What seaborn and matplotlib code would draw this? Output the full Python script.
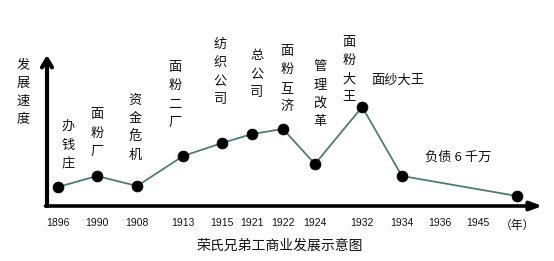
import matplotlib
matplotlib.use("Agg")
import matplotlib.pyplot as plt
import seaborn as sns
import pandas as pd

sns.set_theme(style="white")
plt.rcParams['font.family'] = ['Noto Sans CJK SC', 'DejaVu Sans']

# ---- data ----
tick_labels = ["1896", "1990", "1908", "1913", "1915", "1921", "1922",
               "1924", "1932", "1934", "1936", "1945"]
point_years = ["1896", "1990", "1908", "1913", "1915", "1921", "1922",
               "1924", "1932", "1934", "（年）"]
speed = [1.9, 3.0, 2.0, 5.0, 6.3, 7.2, 7.7, 4.2, 9.9, 3.0, 1.0]
events = ["办钱庄", "面粉厂", "资金危机", "面粉二厂", "纺织公司", "总公司",
          "面粉互济", "管理改革", "面粉大王"]
side_notes = ["面纱大王", "负债 6 千万"]
title = "荣氏兄弟工商业发展示意图"
ylabel = "发展速度"

# ---- layout (uneven spacing of the hand-drawn axis) ----
slot = {"1896": 0.28, "1990": 1.28, "1908": 2.31, "1913": 3.49, "1915": 4.49,
        "1921": 5.26, "1922": 6.05, "1924": 6.87, "1932": 8.08, "1934": 9.10,
        "1936": 10.08, "1945": 11.05, "（年）": 12.05}
event_pos = [(0.54, 6.1), (1.28, 7.3), (2.26, 7.8), (3.28, 11.1), (4.44, 13.4),
             (5.38, 13.2), (6.15, 12.7), (7.0, 11.2), (7.74, 13.6)]
note_pos = [(9.0, 12.6), (10.55, 4.9)]

df = pd.DataFrame({"x": [slot[y] for y in point_years], "speed": speed})

fig = plt.figure(figsize=(5.54, 2.61), dpi=100)
ax = fig.add_axes([47 / 554, (261 - 206) / 261, (540 - 47) / 554, (206 - 58) / 261])

line_color = "#4d7d72"
sns.lineplot(data=df, x="x", y="speed", ax=ax, color=line_color, lw=1.3,
             sort=False, legend=False)
sns.scatterplot(data=df, x="x", y="speed", ax=ax, color="black", s=60,
                edgecolor="black", zorder=5, legend=False)

ax.set_xlim(0, 12.64)
ax.set_ylim(0, 14.8)
for s in ax.spines.values():
    s.set_visible(False)

ax.set_xticks([slot[t] for t in tick_labels])
ax.set_xticklabels(tick_labels, fontsize=7.5, family=['Liberation Sans'])
ax.tick_params(axis='x', direction='in', length=10, width=1.5,
               color="#1f3a33", pad=9, labelcolor="#111111")
ax.set_yticks([])
ax.set_xlabel("")
ax.set_ylabel("")

# axes with arrows
ax.annotate("", xy=(0, 1.02), xytext=(0, 0), xycoords="axes fraction",
            textcoords="axes fraction",
            arrowprops=dict(arrowstyle="->,head_length=0.5,head_width=0.3",
                            lw=3.0, color="black", shrinkA=0, shrinkB=0))
ax.annotate("", xy=(1.005, 0), xytext=(-0.003, 0), xycoords="axes fraction",
            textcoords="axes fraction",
            arrowprops=dict(arrowstyle="-|>,head_length=0.6,head_width=0.22",
                            lw=2.6, color="black", shrinkA=0, shrinkB=0))

# vertical event labels
for txt, (x, y) in zip(events, event_pos):
    ax.text(x, y, "\n".join(txt), ha="center", va="center", fontsize=9.5,
            linespacing=1.55, color="#111111")

for txt, (x, y) in zip(side_notes, note_pos):
    ax.text(x, y, txt, ha="center", va="center", fontsize=9.5, color="#111111")

ax.text(slot["（年）"], -1.9, "（年）", ha="center", va="center",
        fontsize=8.5, color="#111111")

fig.text(23 / 554, 1 - 92 / 261, "\n".join(ylabel), ha="center", va="center",
         fontsize=9.5, linespacing=1.55, color="#111111")
fig.text(280 / 554, 1 - 246 / 261, title, ha="center", va="center",
         fontsize=10, color="#111111")

fig.savefig("out.png", dpi=100, facecolor="white")
